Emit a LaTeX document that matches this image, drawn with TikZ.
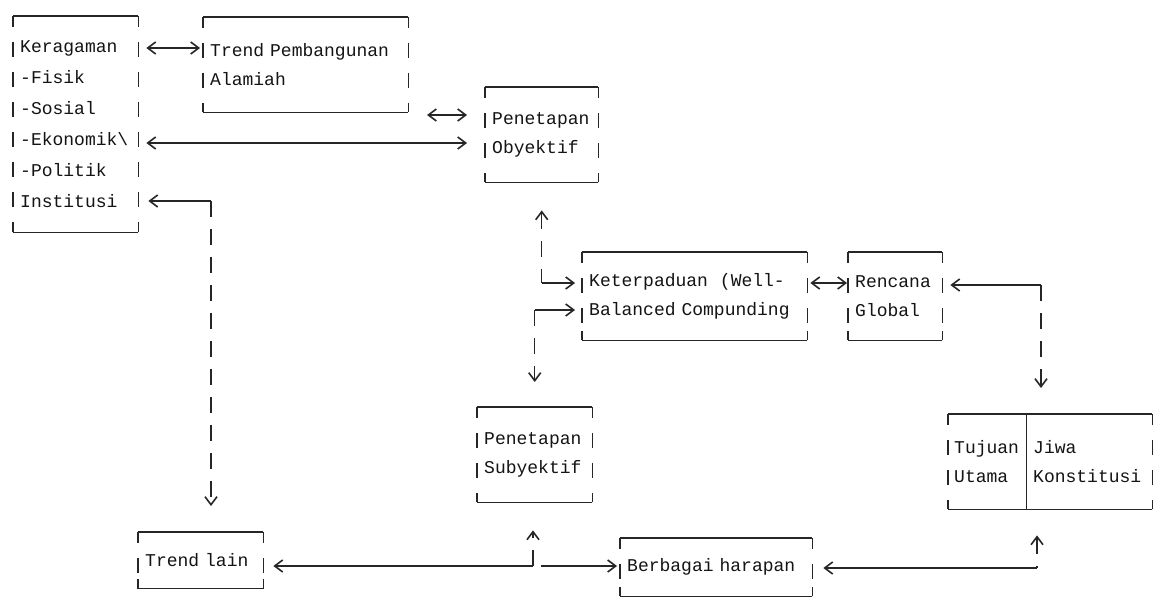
\documentclass[tikz,border=0pt]{standalone}
\usepackage{fontspec}
\newfontfamily\dotm{Liberation Mono}
\usetikzlibrary{arrows.meta,calc}
\newcommand\bxframe[2]{%
  \draw[hb] (#1.north west) -- (#2.north east);
  \draw[hb] (#1.south west) -- (#2.south east);
  \draw[vb] (#1.north west) -- (#1.south west);
  \draw[vb] (#2.north east) -- (#2.south east);
  \draw[hb] (#1.south west) -- ++(0,-9);
  \draw[hb] (#2.south east) -- ++(0,-9);
}
\begin{document}
\begin{tikzpicture}[x=1pt,y=-1pt,
  >={Straight Barb[length=8pt,width=12pt,line width=1.6pt]},
  bx/.style={rectangle, draw=none, inner xsep=7pt, inner ysep=0pt, align=left,
    font=\dotm\fontsize{18}{29}\selectfont, text=black!92, anchor=north west},
  hb/.style={line width=1.2pt, black!85},
  vb/.style={line width=1.6pt, black!85, dash pattern=on 15pt off 15pt, dash phase=4pt},
  cn/.style={line width=1.2pt, black!85},
  vc/.style={line width=1.5pt, black!85, dash pattern=on 16pt off 12pt}]
\useasboundingbox (0,0) rectangle (1160,602);
\fill[white] (0,0) rectangle (1160,602);

% boxes
\node[bx, text width=111pt, minimum height=216pt, font=\dotm\fontsize{18}{31}\selectfont] (K) at (13,16)
  {Keragaman\\-Fisik\\-Sosial\\-Ekonomik\textbackslash\\-Politik\\Institusi};
\node[bx, text width=191pt, minimum height=95pt] (T) at (203,17) {Trend Pembangunan\\Alamiah};
\node[bx, text width=99pt, minimum height=95pt] (O) at (485,87) {Penetapan\\Obyektif};
\node[bx, text width=211pt, minimum height=88pt] (KB) at (582,252) {Keterpaduan\ \ (Well-\\Balanced Compunding};
\node[bx, text width=80pt, minimum height=88pt] (R) at (848,252) {Rencana\\Global};
\node[bx, text width=101pt, minimum height=95pt] (S) at (477,407) {Penetapan\\Subyektif};
\node[bx, inner xsep=6pt, text width=66pt, minimum height=95pt] (TU) at (948,414) {Tujuan\\Utama};
\node[bx, text width=112pt, minimum height=95pt] (JK) at (1026,414) {Jiwa\\Konstitusi};
\node[bx, text width=111pt, minimum height=56pt] (TL) at (138,532) {Trend lain};
\node[bx, text width=178pt, minimum height=58pt] (B) at (620,538) {Berbagai harapan};

\bxframe{K}{K}
\bxframe{T}{T}
\bxframe{O}{O}
\bxframe{KB}{KB}
\bxframe{R}{R}
\bxframe{S}{S}
\bxframe{TU}{JK}
\bxframe{TL}{TL}
\bxframe{B}{B}
\draw[line width=1.6pt, black!85] (TU.north east) -- (TU.south east);

% helper coordinates
\coordinate (r48) at (0,48);
\coordinate (r143) at (0,143);
\coordinate (ci) at (211,201);
\coordinate (fa) at (427,115);
\coordinate (fb) at (467,115);
\coordinate (r283) at (0,283);
\coordinate (r310) at (0,310);
\coordinate (cr) at (1041,285);
\coordinate (cb) at (1037,568);
\coordinate (ct) at (533,566);
\coordinate (cs) at (541,566);

% connectors
\draw[cn,<->,shorten <=8pt,shorten >=3pt] (K.east |- r48) -- (T.west |- r48);
\draw[cn,<->] (fa) -- (fb);
\draw[cn,<->,shorten <=8pt,shorten >=18pt] (K.east |- r143) -- (O.west |- r143);
\draw[cn,<-,shorten <=10pt] (K.east |- ci) -- (ci);
\draw[vc,->,shorten >=26pt] (ci) -- (ci |- TL.north);
\draw[vc,<-,shorten <=28pt] (O.south) -- (O.south |- r283);
\draw[cn,->,shorten >=7pt] (O.south |- r283) -- (KB.west |- r283);
\draw[cn,->,shorten >=7pt] (S.north |- r310) -- (KB.west |- r310);
\draw[vc,->,shorten >=25pt] (S.north |- r310) -- (S.north);
\draw[cn,<->,shorten <=3pt,shorten >=1pt] (KB.east |- r283) -- (R.west |- r283);
\draw[cn,<-,shorten <=8pt] (R.east |- cr) -- (cr);
\draw[vc,->,shorten >=26pt] (cr) -- (cr |- JK.north);
\draw[vc,<-,shorten <=26pt] (cb |- JK.south) -- (cb);
\draw[cn,->,shorten >=11pt] (cb) -- (B.east |- cb);
\draw[cn,<-,shorten <=10pt] (TL.east |- ct) -- (ct);
\draw[vc,->,shorten >=28pt] (ct) -- (ct |- S.south);
\draw[cn,->,shorten >=3pt] (cs) -- (B.west |- cs);
\end{tikzpicture}
\end{document}
